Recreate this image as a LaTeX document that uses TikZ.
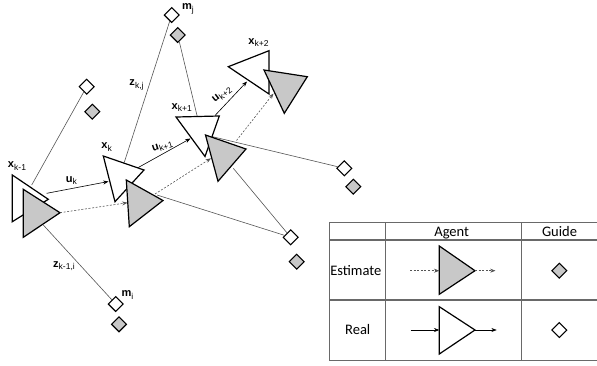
\documentclass[tikz,border=0pt]{standalone}
\usepackage{fontspec}
\setmainfont{Liberation Sans}
\newfontfamily\legendfont{Carlito}
\usetikzlibrary{arrows.meta,shapes.geometric}
\definecolor{estfill}{RGB}{200,200,200}
\definecolor{measline}{RGB}{85,85,85}
\definecolor{gridline}{RGB}{105,105,105}
% bold symbol with a lowered, smaller index
\newcommand{\symlbl}[2]{{\bfseries #1}\raisebox{-0.45ex}{\fontsize{6.4}{7}\selectfont #2}}

\begin{document}
\begin{tikzpicture}[x=0.75pt,y=-0.75pt,
  agent/.style={draw=black,line width=0.9pt,line join=miter},
  realagent/.style={agent,fill=white},
  estagent/.style={agent,fill=estfill},
  guide/.style={shape=diamond,draw=black,line width=0.8pt,inner sep=0pt,minimum size=11.5pt},
  realguide/.style={guide,fill=white},
  estguide/.style={guide,fill=estfill},
  meas/.style={draw=measline,line width=0.45pt},
  ctrl/.style={draw=black,line width=0.45pt,-{Stealth[length=4pt,width=3pt]}},
  estctrl/.style={draw=measline,line width=0.45pt,dash pattern=on 1.5pt off 1.2pt,-{Stealth[length=4pt,width=3pt]}},
  lab/.style={inner sep=0pt,font=\fontsize{8.3}{10}\selectfont},
  cell/.style={inner sep=0pt,anchor=base,font=\legendfont\fontsize{10.9}{13}\selectfont},
  grid/.style={draw=gridline,line width=0.8pt}
]
\useasboundingbox (0,0) rectangle (597,365);

% ---------- guides (real = white, estimate = grey) ----------
\node[realguide] (mj)     at (171.7,15)   {};
\node[estguide]  (mjE)    at (177.7,35)   {};
\node[realguide] (gTL)    at (86.7,86.7)  {};
\node[estguide]  (gTLE)   at (92.3,111.7) {};
\node[realguide] (gR)     at (344.3,168.3){};
\node[estguide]  (gRE)    at (353.3,186.7){};
\node[realguide] (gM)     at (290.7,237.3){};
\node[estguide]  (gME)    at (296.7,261.7){};
\node[realguide] (mi)     at (115.7,304)  {};
\node[estguide]  (miE)    at (119,324.3)  {};

% ---------- agent poses ----------
\coordinate (w1a) at (12.3,175);   \coordinate (w1b) at (12.3,221.7); \coordinate (w1c) at (48.3,199.3);
\coordinate (g1a) at (23.3,189.3); \coordinate (g1b) at (23.3,237.3); \coordinate (g1c) at (60,212.7);
\coordinate (w2a) at (103.3,156);  \coordinate (w2b) at (115,201.7);  \coordinate (w2c) at (144,170);
\coordinate (g2a) at (126.3,180);  \coordinate (g2b) at (129.3,226.7);\coordinate (g2c) at (163,200.5);
\coordinate (w3a) at (176,117);    \coordinate (w3b) at (205,156.5);  \coordinate (w3c) at (219.3,116);
\coordinate (g3a) at (205.5,135);  \coordinate (g3b) at (218,181.3);  \coordinate (g3c) at (246,149);
\coordinate (w4a) at (228.3,66.7); \coordinate (w4b) at (269,50.7);   \coordinate (w4c) at (269,94);
\coordinate (g4a) at (264,70);     \coordinate (g4b) at (307.3,76.7); \coordinate (g4c) at (284.3,113.3);

% ---------- observations ----------
\coordinate (o1) at (31.7,185);
\coordinate (o2) at (43.3,225);
\coordinate (o3) at (124.3,162.3);
\coordinate (o4) at (197.3,116.7);
\coordinate (o5) at (233.3,168.3);
\coordinate (o6) at (157,195);
\draw[meas] (o1) -- (gTL);
\draw[meas] (o2) -- (mi);
\draw[meas] (o3) -- (mj);
\draw[meas] (o4) -- (mjE);
\draw[meas] (g3a) -- (gR);
\draw[meas] (o5) -- (gM);
\draw[meas] (o6) -- (gM);

% ---------- agents ----------
\draw[realagent] (w1a) -- (w1b) -- (w1c) -- cycle;
\draw[estagent]  (g1a) -- (g1b) -- (g1c) -- cycle;
\draw[realagent] (w2a) -- (w2b) -- (w2c) -- cycle;
\draw[estagent]  (g2a) -- (g2b) -- (g2c) -- cycle;
\draw[realagent] (w3a) -- (w3b) -- (w3c) -- cycle;
\draw[estagent]  (g3a) -- (g3b) -- (g3c) -- cycle;
\draw[realagent] (w4a) -- (w4b) -- (w4c) -- cycle;
\draw[estagent]  (g4a) -- (g4b) -- (g4c) -- cycle;

% ---------- controls ----------
\coordinate (u1s) at (46.7,193.3);  \coordinate (u1e) at (108.5,181.5);
\coordinate (u2s) at (138.3,167.5); \coordinate (u2e) at (190.5,138.5);
\coordinate (u3s) at (215,115.5);   \coordinate (u3e) at (247,81.5);
\draw[ctrl] (u1s) -- (u1e);
\draw[ctrl] (u2s) -- (u2e);
\draw[ctrl] (u3s) -- (u3e);

\coordinate (e2e) at (127.5,202.7);
\coordinate (e2s) at (155,194);     \coordinate (e3e) at (211,158.3);
\coordinate (e3s) at (236.5,140.5); \coordinate (e4e) at (273.5,93.5);
\draw[estctrl] (g1c) -- (e2e);
\draw[estctrl] (e2s) -- (e3e);
\draw[estctrl] (e3s) -- (e4e);

% ---------- labels ----------
\node[lab] (lx1) at (17,166)      {\symlbl{x}{k-1}};
\node[lab] (lx2) at (106.7,147)   {\symlbl{x}{k}};
\node[lab] (lx3) at (181.7,107.5) {\symlbl{x}{k+1}};
\node[lab] (lx4) at (258.5,42.5)  {\symlbl{x}{k+2}};
\node[lab] (lu1) at (71.5,180.5)  {\symlbl{u}{k}};
\node[lab,rotate=18] (lu2) at (162.5,146.5) {\symlbl{u}{k+1}};
\node[lab,rotate=38] (lu3) at (222,95)      {\symlbl{u}{k+2}};
\node[lab] (lz1) at (64,266)      {\symlbl{z}{k-1,i}};
\node[lab] (lz2) at (136.5,85)    {\symlbl{z}{k,j}};
\node[lab] (lmj) at (188,9)       {\symlbl{m}{j}};
\node[lab] (lmi) at (127.5,295)   {\symlbl{m}{i}};

% ---------- legend table ----------
\draw[grid] (329.3,222.7) -- (597,222.7);
\draw[grid] (329.3,240)   -- (597,240);
\draw[grid] (329.3,300)   -- (597,300);
\draw[grid] (329.3,360.7) -- (597,360.7);
\draw[grid] (329.3,222.7) -- (329.3,360.7);
\draw[grid] (385.7,222.7) -- (385.7,360.7);
\draw[grid] (521.3,222.7) -- (521.3,360.7);

\node[cell] (hAgent) at (451.7,236.2) {Agent};
\node[cell] (hGuide) at (559.5,236.2) {Guide};
\node[cell] (hEst)   at (355.8,275.3) {Estimate};
\node[cell] (hReal)  at (357.7,334.3) {Real};

\coordinate (la1) at (439.3,246);   \coordinate (la2) at (439.3,294.3); \coordinate (la3) at (475,270.7);
\coordinate (lb1) at (439.3,306.7); \coordinate (lb2) at (439.3,354);   \coordinate (lb3) at (475,330);
\coordinate (lain) at (410,270.7);  \coordinate (laon) at (439.3,270.7); \coordinate (laout) at (495.5,270.7);
\coordinate (lbin) at (410.7,330);  \coordinate (lbon) at (439.3,330);   \coordinate (lbout) at (496.7,330);
\draw[estagent]  (la1) -- (la2) -- (la3) -- cycle;
\draw[realagent] (lb1) -- (lb2) -- (lb3) -- cycle;
\draw[estctrl] (lain) -- (laon);
\draw[estctrl] (la3) -- (laout);
\draw[ctrl] (lbin) -- (lbon);
\draw[ctrl] (lb3) -- (lbout);

\node[estguide]  (kE) at (559.3,270.7) {};
\node[realguide] (kR) at (559.3,330)   {};
\end{tikzpicture}
\end{document}
